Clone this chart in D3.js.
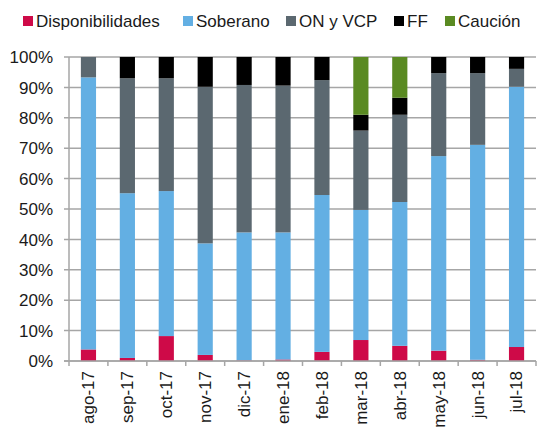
<!DOCTYPE html>
<html><head><meta charset="utf-8">
<script src="https://cdn.jsdelivr.net/npm/d3@7"></script>
<style>body{margin:0;background:#fff}svg{display:block}text{font-family:"Liberation Sans",Arial,sans-serif}</style>
</head><body><svg id="c" width="542" height="430"></svg>
<script>
const categories = ["ago-17","sep-17","oct-17","nov-17","dic-17","ene-18","feb-18","mar-18","abr-18","may-18","jun-18","jul-18"];
const seriesNames = ["Disponibilidades","Soberano","ON y VCP","FF","Caución"];
const disponibilidades = [3.8,1.0,8.2,2.0,0.2,0.5,3.0,6.9,5.0,3.4,0.4,4.6];
const soberano =         [89.5,54.2,47.7,36.7,42.1,41.8,51.6,42.8,47.3,64.0,70.7,85.6];
const onVcp =            [6.7,37.8,37.1,51.5,48.5,48.3,37.8,26.1,28.7,27.3,23.6,5.9];
const ff =               [0,7.0,7.0,9.8,9.2,9.4,7.6,5.2,5.6,5.3,5.3,3.9];
const caucion =          [0,0,0,0,0,0,0,19.0,13.4,0,0,0];
const yTicks = [0,10,20,30,40,50,60,70,80,90,100];
const colors = ["#CE0A48","#63AFE3","#5B6870","#000000","#5A8A22"];

const svg = d3.select("#c");
const m = {l:69, r:536, t:57, b:361};
const x = d3.scaleBand().domain(categories).range([m.l, m.r]).padding(0);
const y = d3.scaleLinear().domain([0,100]).range([m.b, m.t]);

const rows = categories.map((c,i)=>({cat:c, "Disponibilidades":disponibilidades[i], "Soberano":soberano[i], "ON y VCP":onVcp[i], "FF":ff[i], "Caución":caucion[i]}));
const stack = d3.stack().keys(seriesNames)(rows);

// gridlines
svg.append("g").selectAll("line").data(yTicks).join("line")
  .attr("x1", m.l-5).attr("x2", m.r).attr("y1", d=>y(d)).attr("y2", d=>y(d))
  .attr("stroke","#A6A6A6").attr("stroke-width",1.5);

// y labels
svg.append("g").selectAll("text").data(yTicks).join("text")
  .attr("x", 53).attr("y", d=>y(d)).attr("dy","0.36em").attr("text-anchor","end")
  .attr("font-size",17).attr("fill","#1a1a1a").text(d=>d+"%");

// bars
const bw = x.bandwidth()*0.39;
svg.append("g").selectAll("g").data(stack).join("g").attr("fill",(d,i)=>colors[i])
  .selectAll("rect").data(d=>d).join("rect")
  .attr("x", d=>x(d.data.cat)+(x.bandwidth()-bw)/2).attr("width", bw)
  .attr("y", d=>y(d[1])).attr("height", d=>Math.max(0,y(d[0])-y(d[1])));

// axes lines
svg.append("line").attr("x1",m.l).attr("x2",m.l).attr("y1",m.t).attr("y2",m.b).attr("stroke","#A6A6A6").attr("stroke-width",1.5);
svg.append("line").attr("x1",m.l-5).attr("x2",m.r).attr("y1",m.b).attr("y2",m.b).attr("stroke","#A6A6A6").attr("stroke-width",1.5);
const bounds = categories.map(c=>x(c)).concat([m.r]);
svg.append("g").selectAll("line").data(bounds).join("line")
  .attr("x1",d=>d).attr("x2",d=>d).attr("y1",m.b).attr("y2",m.b+5).attr("stroke","#A6A6A6").attr("stroke-width",1.5);

// x labels
svg.append("g").selectAll("text").data(categories).join("text")
  .attr("transform", d=>`translate(${x(d)+x.bandwidth()/2},371) rotate(-90)`)
  .attr("dy","0.35em").attr("text-anchor","end").attr("font-size",17).attr("fill","#1a1a1a").text(d=>d);

// legend
const legX = [23,183,286,394,445];
const leg = svg.append("g").selectAll("g").data(seriesNames).join("g")
  .attr("transform",(d,i)=>`translate(${legX[i]},0)`);
leg.append("rect").attr("x",0).attr("y",16).attr("width",10).attr("height",10).attr("fill",(d,i)=>colors[i]);
leg.append("text").attr("x",13).attr("y",27).attr("font-size",17).attr("fill","#1a1a1a").text(d=>d);
</script></body></html>
